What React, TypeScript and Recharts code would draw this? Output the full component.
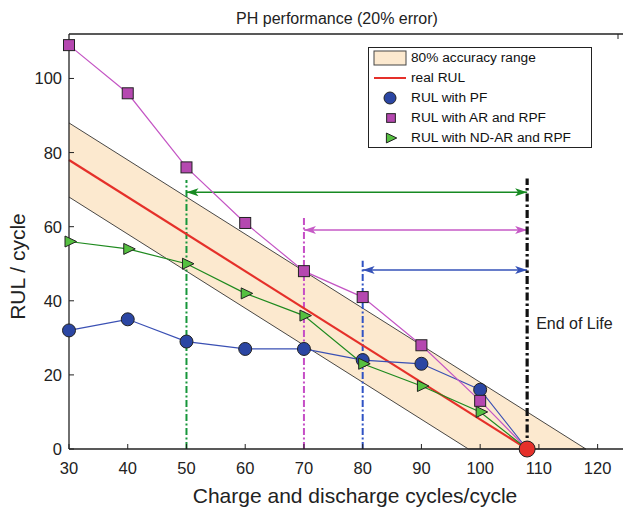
import React from "react";
import {
  ComposedChart, Area, Line, Scatter, XAxis, YAxis,
  ReferenceLine, ReferenceDot, Legend,
} from "recharts";

const FONT = '"Liberation Sans", Arial, Helvetica, sans-serif';

// cycles at which the three predictors were run
const cycles = [30, 40, 50, 60, 70, 80, 90, 100, 108];
const rulPF = [32, 35, 29, 27, 27, 24, 23, 16, 0];
const rulAR = [109, 96, 76, 61, 48, 41, 28, 13, 0];
const rulNDAR = [56, 54, 50, 42, 36, 23, 17, 10, 0];

// real RUL, straight down to end of life
const realCycles = [30, 108];
const realRUL = [78, 0];

// 80% accuracy band (+-10 cycles round the real RUL)
const bandCycles = [30, 98, 118];
const bandLow = [68, 0, 0];
const bandHigh = [88, 20, 0];

const eolCycle = 108;
const eolTop = 73;
const eolLabelAt = 34;

// first cycle each method stays inside the band: dash-dot marker top, arrow height
const startCycles = [50, 70, 80];
const startTops = [72.6, 62.7, 50.8];
const arrowLevels = [69.3, 59.1, 48.3];
const startColors = ["#16963a", "#c64ec6", "#2f52c4"];
const arrowColors = ["#178a22", "#c65ac6", "#3552b8"];

const xTicks = [30, 40, 50, 60, 70, 80, 90, 100, 110, 120];
const yTicks = [0, 20, 40, 60, 80, 100];

const legendNames = [
  "80% accuracy range",
  "real RUL",
  "RUL with PF",
  "RUL with AR and RPF",
  "RUL with ND-AR and RPF",
];

const BAND = "#fce9cf";
const RED = "#e5302a";
const BLUE = "#2b46a3";
const BLUE_LINE = "#3a50b4";
const MAG = "#b548b0";
const MAG_LINE = "#c455c4";
const GREEN = "#55c040";
const GREEN_LINE = "#1e8a1e";
const EDGE = "#222";

const seriesData = cycles.map((x, i) => ({ x, pf: rulPF[i], ar: rulAR[i], nd: rulNDAR[i] }));
const realData = realCycles.map((x, i) => ({ x, y: realRUL[i] }));
const bandData = bandCycles.map((x, i) => ({ x, range: [bandLow[i], bandHigh[i]] }));
const eolPoint = [{ x: eolCycle, y: 0 }];

const circle = (cx: number, cy: number, r = 6.5) => (
  <circle cx={cx} cy={cy} r={r} fill={BLUE} stroke={EDGE} strokeWidth={1} />
);
const square = (cx: number, cy: number, s = 11) => (
  <rect x={cx - s / 2} y={cy - s / 2} width={s} height={s} fill={MAG} stroke={EDGE} strokeWidth={1} />
);
const triangle = (cx: number, cy: number, k = 1) => (
  <path
    d={`M${cx - 4 * k},${cy - 5.5 * k} L${cx + 7.5 * k},${cy} L${cx - 4 * k},${cy + 5.5 * k} Z`}
    fill={GREEN}
    stroke={EDGE}
    strokeWidth={1}
  />
);

// no marker at end of life, the red dot sits there
const markerDot = (draw: (cx: number, cy: number) => React.ReactElement) => (p: any) => (
  <g key={`m-${p.index}`}>{p.payload.x === eolCycle ? null : draw(p.cx, p.cy)}</g>
);

// ticks point into the box, labels sit outside
const BottomTick = (p: any) => (
  <g>
    <line x1={p.x} x2={p.x} y1={p.y} y2={p.y - 5} stroke={EDGE} />
    <text x={p.x} y={p.y + 25} textAnchor="middle" fontSize={16.5} fill="#222" fontFamily={FONT}>
      {p.payload.value}
    </text>
  </g>
);
const TopTick = (p: any) => <line x1={p.x} x2={p.x} y1={p.y} y2={p.y + 5} stroke={EDGE} />;

const LeftTick = (p: any) => (
  <g>
    <line x1={p.x} x2={p.x + 5} y1={p.y} y2={p.y} stroke={EDGE} />
    <text x={p.x - 7} y={p.y + 6} textAnchor="end" fontSize={16.5} fill="#222" fontFamily={FONT}>
      {p.payload.value}
    </text>
  </g>
);
const RightTick = (p: any) => <line x1={p.x} x2={p.x - 5} y1={p.y} y2={p.y} stroke={EDGE} />;

const makeArrow = (color: string) => (p: any) => {
  const a = Math.min(p.x1, p.x2);
  const b = Math.max(p.x1, p.x2);
  const y = p.y1;
  const len = 12, half = 4, notch = 9;
  return (
    <g>
      <line x1={a} y1={y} x2={b} y2={y} stroke={color} strokeWidth={1.5} />
      <path d={`M${a},${y} L${a + len},${y - half} L${a + notch},${y} L${a + len},${y + half} Z`} fill={color} />
      <path d={`M${b},${y} L${b - len},${y - half} L${b - notch},${y} L${b - len},${y + half} Z`} fill={color} />
    </g>
  );
};

const legendIcon = (i: number) => {
  if (i === 0) return <rect x={5} y={3} width={32} height={14} fill={BAND} stroke="#444" strokeWidth={1} />;
  if (i === 1) return <line x1={5} x2={37} y1={10} y2={10} stroke={RED} strokeWidth={2} />;
  if (i === 2) return circle(21, 10, 6);
  if (i === 3) return square(22, 10, 8.7);
  return triangle(21, 10, 0.9);
};

const LegendBox = () => (
  <div
    style={{
      boxSizing: "border-box",
      width: 224,
      height: 101,
      border: "1px solid #222",
      background: "#fff",
      fontFamily: FONT,
      fontSize: 13.7,
      color: "#111",
    }}
  >
    {legendNames.map((name, i) => (
      <div key={name} style={{ display: "flex", alignItems: "center", height: 20 }}>
        <svg width={40} height={20} style={{ display: "block" }}>
          {legendIcon(i)}
        </svg>
        <span style={{ marginLeft: 2, lineHeight: "20px", whiteSpace: "nowrap" }}>{name}</span>
      </div>
    ))}
  </div>
);

const axisLine = { stroke: EDGE, strokeWidth: 1.3 };

export default function App() {
  return (
    <div
      style={{
        position: "absolute",
        left: 0,
        top: 0,
        width: 623,
        height: 511,
        overflow: "hidden",
        background: "#fff",
        fontFamily: FONT,
      }}
    >
      <ComposedChart
        width={630}
        height={511}
        data={seriesData}
        margin={{ top: 33, right: 2, bottom: 61, left: 68 }}
      >
        <XAxis
          type="number"
          dataKey="x"
          domain={[30, 125]}
          ticks={xTicks}
          height={1}
          tickSize={0}
          tickMargin={0}
          tickLine={false}
          tick={<BottomTick />}
          axisLine={axisLine}
        />
        <XAxis
          xAxisId="top"
          orientation="top"
          type="number"
          domain={[30, 125]}
          ticks={xTicks}
          height={1}
          tickSize={0}
          tickMargin={0}
          tickLine={false}
          tick={<TopTick />}
          axisLine={axisLine}
        />
        <YAxis
          type="number"
          domain={[0, 112]}
          ticks={yTicks}
          width={1}
          tickSize={0}
          tickMargin={0}
          tickLine={false}
          tick={<LeftTick />}
          axisLine={axisLine}
        />
        <YAxis
          yAxisId="right"
          orientation="right"
          type="number"
          domain={[0, 112]}
          ticks={yTicks}
          width={1}
          tickSize={0}
          tickMargin={0}
          tickLine={false}
          tick={<RightTick />}
          axisLine={axisLine}
        />

        <Area
          data={bandData}
          dataKey="range"
          type="linear"
          fill={BAND}
          fillOpacity={1}
          stroke="#1a1a1a"
          strokeWidth={0.8}
          dot={false}
          activeDot={false}
          isAnimationActive={false}
        />

        {startCycles.map((c, i) => (
          <ReferenceLine
            key={`v-${c}`}
            segment={[{ x: c, y: 0 }, { x: c, y: startTops[i] }]}
            stroke={startColors[i]}
            strokeWidth={2}
            strokeDasharray="7 2.5 2 2.5"
          />
        ))}
        {startCycles.map((c, i) => (
          <ReferenceLine
            key={`a-${c}`}
            segment={[{ x: c, y: arrowLevels[i] }, { x: eolCycle, y: arrowLevels[i] }]}
            shape={makeArrow(arrowColors[i])}
          />
        ))}
        <ReferenceLine
          segment={[{ x: eolCycle, y: 0 }, { x: eolCycle, y: eolTop }]}
          stroke="#111"
          strokeWidth={3.2}
          strokeDasharray="8 3 2.5 3"
        />
        <ReferenceDot
          x={eolCycle}
          y={eolLabelAt}
          r={0}
          fill="none"
          stroke="none"
          label={{ value: "End of Life", position: "right", offset: 9, fontSize: 16, fill: "#222", fontFamily: FONT }}
        />

        <Line
          data={realData}
          dataKey="y"
          type="linear"
          stroke={RED}
          strokeWidth={2.2}
          dot={false}
          activeDot={false}
          isAnimationActive={false}
        />
        <Line
          dataKey="pf"
          type="linear"
          stroke={BLUE_LINE}
          strokeWidth={1.2}
          dot={markerDot((x, y) => circle(x, y))}
          activeDot={false}
          isAnimationActive={false}
        />
        <Line
          dataKey="ar"
          type="linear"
          stroke={MAG_LINE}
          strokeWidth={1.2}
          dot={markerDot((x, y) => square(x, y))}
          activeDot={false}
          isAnimationActive={false}
        />
        <Line
          dataKey="nd"
          type="linear"
          stroke={GREEN_LINE}
          strokeWidth={1.2}
          dot={markerDot((x, y) => triangle(x, y))}
          activeDot={false}
          isAnimationActive={false}
        />
        <Scatter
          data={eolPoint}
          dataKey="y"
          legendType="none"
          isAnimationActive={false}
          shape={(p: any) => <circle cx={p.cx} cy={p.cy} r={8} fill={RED} stroke={EDGE} strokeWidth={1} />}
        />

        <Legend
          layout="horizontal"
          verticalAlign="middle"
          align="center"
          content={() => <LegendBox />}
          wrapperStyle={{ left: 368, top: 47, width: 224, height: 101 }}
        />

        <text x={337} y={24} textAnchor="middle" fontSize={16} fill="#222" fontFamily={FONT}>
          PH performance (20% error)
        </text>
        <text x={355} y={503} textAnchor="middle" fontSize={21} fill="#222" fontFamily={FONT}>
          Charge and discharge cycles/cycle
        </text>
        <text
          transform="translate(25, 266.5) rotate(-90)"
          textAnchor="middle"
          fontSize={21}
          fill="#222"
          fontFamily={FONT}
        >
          RUL / cycle
        </text>
      </ComposedChart>
    </div>
  );
}
